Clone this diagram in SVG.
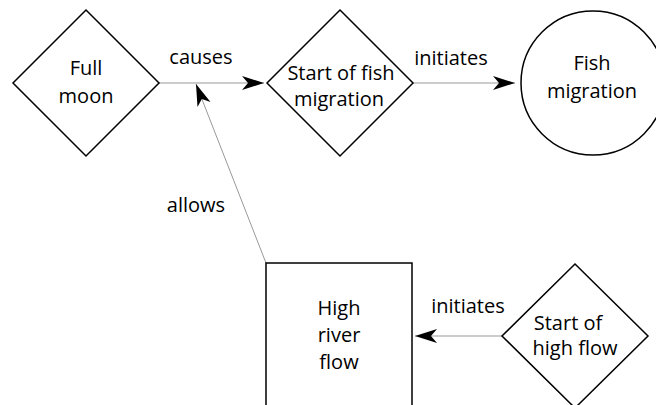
<svg xmlns="http://www.w3.org/2000/svg" width="656" height="405" viewBox="0 0 656 405">
<style>
.node{fill:#fff;stroke:#000;stroke-width:1.5}
.t{font-family:"Open Sans","Noto Sans",sans-serif;font-size:20px;fill:#000;text-anchor:middle}
.c{stroke:#999;stroke-width:1;fill:none;marker-end:url(#ah)}
</style>
<defs>
<marker id="ah" markerUnits="userSpaceOnUse" viewBox="-23 -8 24 16" refX="0" refY="0" markerWidth="24" markerHeight="16" orient="auto" overflow="visible">
<path d="M0,0 L-22,-7 L-16,0 L-22,7 Z" fill="#000"/>
</marker>
</defs>
<rect width="656" height="405" fill="#fff"/>
<g id="connectors">
<line class="c" x1="159" y1="83" x2="264" y2="83"/>
<line class="c" x1="413" y1="83" x2="515" y2="83"/>
<line class="c" x1="502" y1="336" x2="415" y2="336"/>
<line class="c" x1="266" y1="263" x2="196" y2="84"/>
<text class="t" x="201" y="64">causes</text>
<text class="t" x="451" y="65">initiates</text>
<text class="t" x="196" y="212">allows</text>
<text class="t" x="468" y="313">initiates</text>
</g>
<g id="full-moon">
<path class="node" d="M86,10 L159,83 L86,156 L13,83 Z"/>
<text class="t" x="86" y="75">Full</text>
<text class="t" x="86" y="103">moon</text>
</g>
<g id="start-fish-migration">
<path class="node" d="M340,10 L413,83 L340,156 L267,83 Z"/>
<text class="t" x="341" y="80">Start of fish</text>
<text class="t" x="339" y="106">migration</text>
</g>
<g id="fish-migration">
<circle class="node" cx="593" cy="83" r="72"/>
<text class="t" x="592" y="70">Fish</text>
<text class="t" x="592" y="98">migration</text>
</g>
<g id="high-river-flow">
<rect class="node" x="266" y="263" width="146" height="160"/>
<text class="t" x="339" y="315">High</text>
<text class="t" x="339" y="342">river</text>
<text class="t" x="339" y="369">flow</text>
</g>
<g id="start-high-flow">
<path class="node" d="M575,264 L648,336 L575,408 L502,336 Z"/>
<text class="t" x="568" y="330">Start of</text>
<text class="t" x="575" y="355">high flow</text>
</g>
</svg>
